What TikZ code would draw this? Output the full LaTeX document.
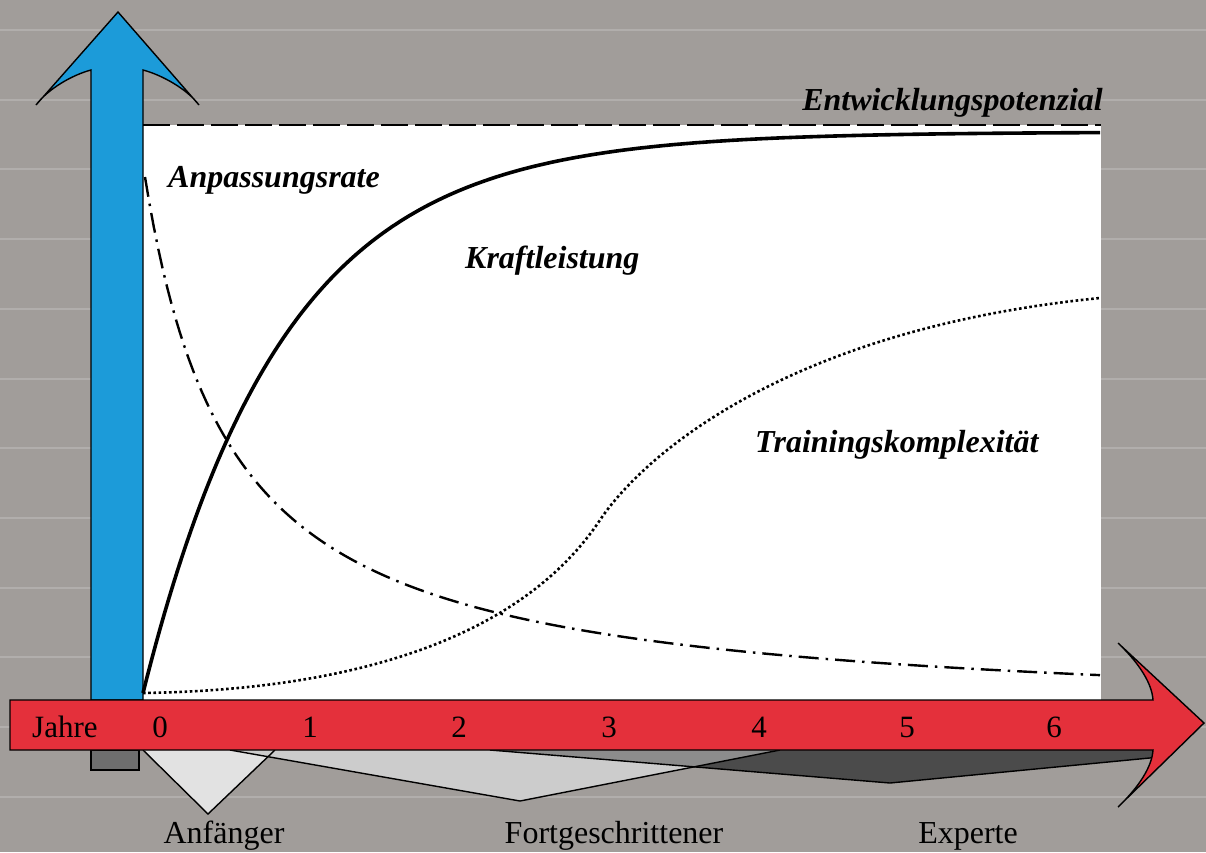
\documentclass[tikz,border=0pt]{standalone}
\usepackage{fontspec}
\setmainfont{Liberation Serif}
\definecolor{bggray}{HTML}{A19D9A}
\definecolor{axisblue}{HTML}{1C9BD9}
\definecolor{axisred}{HTML}{E4303B}
\definecolor{lightA}{HTML}{E2E2E2}
\definecolor{lightF}{HTML}{CCCCCC}
\definecolor{darkE}{HTML}{4B4B4B}
\definecolor{midEF}{HTML}{8C8C8C}
\definecolor{stub}{HTML}{6E6E6E}
\tikzset{
  stripe/.style={draw=white, opacity=0.18, line width=2pt},
  arrowshape/.style={draw=black, line width=1.4pt, line join=miter},
  phase/.style={draw=black, line width=1.4pt, line join=miter},
  curvelbl/.style={font=\fontsize{32}{38}\selectfont\bfseries\itshape, inner sep=0pt},
  axislbl/.style={font=\fontsize{31}{36}\selectfont, inner sep=0pt},
  phaselbl/.style={font=\fontsize{32}{38}\selectfont, inner sep=0pt},
  kraft/.style={line width=3.6pt},
  anpass/.style={line width=2.4pt, dash pattern=on 20pt off 7pt on 2.5pt off 7pt},
  komplex/.style={line width=2.6pt, dash pattern=on 2.6pt off 2.6pt},
  potenzial/.style={line width=2.4pt, dash pattern=on 27pt off 7pt}
}
\begin{document}
\begin{tikzpicture}[x=1pt,y=-1pt]
\useasboundingbox (0,0) rectangle (1206,852);
\fill[bggray] (0,0) rectangle (1206,852);
\foreach \k in {0,...,11} \draw[stripe] (0,{30+69.7*\k}) -- (1206,{30+69.7*\k});

% plot area
\fill[white] (143,125) rectangle (1101,700);

% vertical blue arrow
\filldraw[arrowshape, fill=axisblue] (91,700) -- (91,70)
  .. controls (72,75) and (48,89) .. (36,105)
  -- (118,12) -- (199,105)
  .. controls (187,89) and (162,75) .. (143,70)
  -- (143,700) -- cycle;

% curves
\draw[potenzial] (143,125) -- (1101,125);
\draw[kraft] plot[domain=143:1100, samples=220] (\x, {693-561*(1-exp(-(\x-143)/140))});
\draw[anpass] plot[domain=145:1100, samples=220] (\x, {720.5-472.85*(100/(\x-58))});
\draw[komplex] (143,693) .. controls (350,690) and (520,640) .. (600,520)
  .. controls (640,460) and (780,330) .. (1100,298);

% phase shapes below time axis
\fill[lightA] (143,750) -- (208,814) -- (275,750) -- cycle;
\fill[darkE] (490,750) -- (890,783) -- (1160,757) -- (1160,750) -- cycle;
\fill[lightF] (230,750) -- (520,801) -- (780,750) -- cycle;
\begin{scope}
  \clip (490,750) -- (890,783) -- (1160,757) -- (1160,750) -- cycle;
  \fill[midEF] (230,750) -- (520,801) -- (780,750) -- cycle;
\end{scope}
\draw[phase] (143,750) -- (208,814) -- (275,750);
\draw[phase] (490,750) -- (890,783) -- (1160,757);
\draw[phase] (230,750) -- (520,801) -- (780,750);
\filldraw[draw=black, line width=1.2pt, fill=stub] (91,750) rectangle (139,770);

% horizontal red arrow
\filldraw[arrowshape, fill=axisred] (10,700) -- (1153,700)
  .. controls (1152,684) and (1140,664) .. (1118,643)
  -- (1204,723) -- (1118,807)
  .. controls (1140,786) and (1152,766) .. (1153,750)
  -- (10,750) -- cycle;

% axis labels
\node[axislbl, anchor=base west] (jahre) at (32,737) {Jahre};
\node[axislbl, anchor=base] (t0) at (160,737) {0};
\node[axislbl, anchor=base] (t1) at (310,737) {1};
\node[axislbl, anchor=base] (t2) at (459,737) {2};
\node[axislbl, anchor=base] (t3) at (609,737) {3};
\node[axislbl, anchor=base] (t4) at (759,737) {4};
\node[axislbl, anchor=base] (t5) at (907,737) {5};
\node[axislbl, anchor=base] (t6) at (1054,737) {6};

% curve labels
\node[curvelbl, anchor=base east] (lpot) at (1103,110) {Entwicklungspotenzial};
\node[curvelbl, anchor=base west] (lanp) at (168,187) {Anpassungsrate};
\node[curvelbl, anchor=base west] (lkraft) at (465,268) {Kraftleistung};
\node[curvelbl, anchor=base west] (lkomp) at (755,452) {Trainingskomplexität};

% phase labels
\node[phaselbl, anchor=base] (lanf) at (224,843) {Anfänger};
\node[phaselbl, anchor=base] (lfort) at (614,843) {Fortgeschrittener};
\node[phaselbl, anchor=base] (lexp) at (968,843) {Experte};
\end{tikzpicture}
\end{document}
